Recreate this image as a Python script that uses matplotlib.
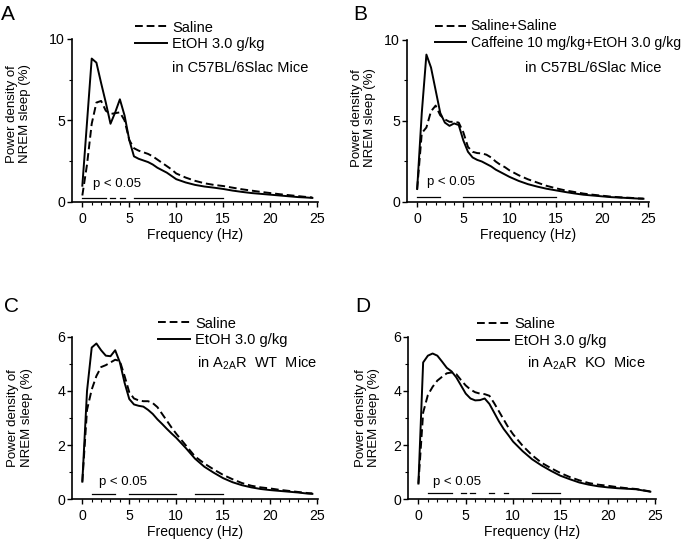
import numpy as np
import matplotlib
matplotlib.use('Agg')
import matplotlib.pyplot as plt
from matplotlib.ticker import FixedLocator

plt.rcParams['font.family'] = ['Liberation Sans', 'DejaVu Sans']
plt.rcParams['mathtext.fontset'] = 'custom'
plt.rcParams['mathtext.rm'] = 'Liberation Sans'

# frequency bins (Hz)
freq = [0, 0.5, 1, 1.5, 2, 2.5, 3, 3.5, 4, 4.5, 5, 5.5, 6, 6.5, 7, 7.5, 8, 8.5,
        9, 9.5, 10, 11, 12, 13, 14, 15, 16, 17, 18, 19, 20, 21, 22, 23, 24, 24.5]

# A: C57BL/6Slac, saline vs EtOH
a_saline = [0.4, 2.3, 4.8, 6.1, 6.2, 5.6, 5.4, 5.45, 5.5, 5.0, 3.8, 3.3, 3.15, 3.05,
            2.95, 2.8, 2.6, 2.4, 2.2, 2.0, 1.75, 1.5, 1.3, 1.15, 1.05, 0.98, 0.88,
            0.78, 0.7, 0.62, 0.55, 0.48, 0.42, 0.36, 0.3, 0.28]
a_etoh = [1.0, 4.9, 8.8, 8.55, 7.3, 6.1, 4.8, 5.5, 6.3, 5.3, 3.8, 2.8, 2.65, 2.55,
          2.45, 2.3, 2.1, 1.95, 1.8, 1.6, 1.4, 1.2, 1.05, 0.95, 0.88, 0.8, 0.7,
          0.62, 0.55, 0.5, 0.45, 0.4, 0.35, 0.3, 0.27, 0.25]

# B: saline+saline vs caffeine+EtOH
b_saline = [0.8, 4.25, 4.6, 5.6, 5.95, 5.35, 5.1, 4.95, 4.95, 4.9, 4.3, 3.4, 3.1,
            3.02, 3.0, 2.92, 2.75, 2.5, 2.3, 2.15, 1.95, 1.65, 1.4, 1.2, 1.0, 0.85,
            0.72, 0.62, 0.52, 0.45, 0.39, 0.33, 0.29, 0.26, 0.22, 0.21]
b_caff = [0.8, 5.5, 9.1, 8.3, 6.9, 5.5, 4.9, 4.7, 4.85, 4.75, 3.8, 3.1, 2.75, 2.6,
          2.5, 2.35, 2.2, 2.0, 1.85, 1.7, 1.55, 1.3, 1.1, 0.95, 0.82, 0.72, 0.62,
          0.53, 0.45, 0.4, 0.35, 0.3, 0.27, 0.24, 0.21, 0.2]

# C: A2AR WT
c_saline = [0.65, 3.3, 4.05, 4.55, 4.88, 4.95, 5.05, 5.15, 5.1, 4.55, 3.95, 3.72,
            3.65, 3.62, 3.62, 3.55, 3.4, 3.15, 2.9, 2.65, 2.42, 2.0, 1.58, 1.32,
            1.1, 0.9, 0.74, 0.6, 0.5, 0.44, 0.4, 0.35, 0.31, 0.27, 0.23, 0.22]
c_etoh = [0.65, 4.0, 5.6, 5.75, 5.5, 5.3, 5.28, 5.5, 5.05, 4.3, 3.7, 3.5, 3.45,
          3.42, 3.3, 3.15, 2.95, 2.78, 2.6, 2.43, 2.27, 1.9, 1.5, 1.2, 0.98, 0.78,
          0.63, 0.52, 0.44, 0.38, 0.34, 0.31, 0.28, 0.25, 0.21, 0.2]

# D: A2AR KO
d_saline = [0.58, 3.2, 3.85, 4.15, 4.38, 4.52, 4.65, 4.68, 4.62, 4.4, 4.2, 4.05,
            3.95, 3.9, 3.88, 3.82, 3.55, 3.25, 2.95, 2.65, 2.4, 1.98, 1.63, 1.35,
            1.15, 0.97, 0.82, 0.7, 0.6, 0.54, 0.5, 0.45, 0.41, 0.38, 0.32, 0.29]
d_etoh = [0.58, 5.05, 5.3, 5.38, 5.3, 5.08, 4.85, 4.72, 4.5, 4.2, 3.9, 3.72, 3.65,
          3.66, 3.72, 3.52, 3.2, 2.88, 2.6, 2.37, 2.13, 1.78, 1.48, 1.25, 1.05,
          0.87, 0.74, 0.62, 0.54, 0.48, 0.44, 0.41, 0.39, 0.37, 0.31, 0.28]

# p < 0.05 ranges (Hz)
a_sig = [(0, 2.5), (3, 3.5), (4, 4.5), (5.5, 15)]
b_sig = [(0, 2.5), (5, 15)]
c_sig = [(1, 3.5), (5, 10), (12, 15)]
d_sig = [(1, 3.5), (4.5, 5), (5.5, 6), (7.5, 8), (9, 9.5), (12, 15)]

W, H = 685, 540
fig = plt.figure(figsize=(W / 100, H / 100), dpi=100)


def px_axes(left, right, top, bottom):
    return fig.add_axes([left / W, 1 - bottom / H, (right - left) / W, (bottom - top) / H])


panels = [
    dict(letter='A', lpos=(1, 20), box=(72, 318, 39, 202), dash=a_saline, solid=a_etoh,
         labels=['Saline', 'EtOH 3.0 g/kg'], note='in C57BL/6Slac Mice', ymax=10,
         yt=[0, 5, 10], ym=[2.5, 7.5], sig=a_sig, sigy=0.25, ptxt=(1.1, 1.1),
         leg=(135, 20.5), legfs=10.5, npos=(172, 68), ylab=(-0.165, 0.54)),
    dict(letter='B', lpos=(353, 20), box=(407, 649, 40, 202), dash=b_saline, solid=b_caff,
         labels=['Saline+Saline', 'Caffeine 10 mg/kg+EtOH 3.0 g/kg'], note='in C57BL/6Slac Mice',
         ymax=10, yt=[0, 5, 10], ym=[2.5, 7.5], sig=b_sig, sigy=0.33, ptxt=(1.05, 1.25),
         leg=(435, 19.5), legfs=10.1, npos=(525, 68), ylab=(-0.128, 0.52)),
    dict(letter='C', lpos=(4, 312), box=(72, 318, 336.7, 499.3), dash=c_saline, solid=c_etoh,
         labels=['Saline', 'EtOH 3.0 g/kg'], note=r'in A$_{\mathregular{2A}}$R  WT  Mice',
         ymax=6, yt=[0, 2, 4, 6], ym=[1, 3, 5], sig=c_sig, sigy=0.2, ptxt=(1.8, 0.64),
         leg=(158, 316.5), legfs=10.5, npos=(197, 363), ylab=(-0.16, 0.5)),
    dict(letter='D', lpos=(355, 312), box=(408, 656, 336.7, 499.3), dash=d_saline, solid=d_etoh,
         labels=['Saline', 'EtOH 3.0 g/kg'], note=r'in A$_{\mathregular{2A}}$R  KO  Mice',
         ymax=6, yt=[0, 2, 4, 6], ym=[1, 3, 5], sig=d_sig, sigy=0.22, ptxt=(1.55, 0.64),
         leg=(477, 317.5), legfs=10.5, npos=(527, 363), ylab=(-0.113, 0.5)),
]

for p in panels:
    ax = px_axes(*p['box'])
    ax.plot(freq, p['dash'], color='black', lw=1.4, ls=(0, (4, 2)), label=p['labels'][0])
    ax.plot(freq, p['solid'], color='black', lw=1.4, label=p['labels'][1])
    for s0, s1 in p['sig']:
        ax.plot([s0, s1], [p['sigy'], p['sigy']], color='black', lw=0.9)
    ax.text(p['ptxt'][0], p['ptxt'][1], 'p < 0.05', fontsize=9.5, va='center', ha='left')

    ax.set_xlim(-1.1, 25.1)
    ax.set_ylim(0, p['ymax'])
    ax.spines['top'].set_visible(False)
    ax.spines['right'].set_visible(False)
    ax.spines['left'].set_linewidth(1.2)
    ax.spines['bottom'].set_linewidth(1.2)
    ax.spines['left'].set_bounds(0, p['ymax'])
    ax.xaxis.set_major_locator(FixedLocator([0, 5, 10, 15, 20, 25]))
    ax.xaxis.set_minor_locator(FixedLocator(list(range(26))))
    ax.yaxis.set_major_locator(FixedLocator(p['yt']))
    ax.yaxis.set_minor_locator(FixedLocator(p['ym']))
    ax.tick_params(which='major', length=3.5, width=1.0, labelsize=10.2, direction='out')
    ax.tick_params(which='minor', length=2.2, width=0.8, direction='out')
    ax.tick_params(axis='x', which='major', pad=3.5)
    ax.tick_params(axis='y', which='major', pad=1.5)
    ax.set_xlabel('Frequency (Hz)', fontsize=10, labelpad=1.5)
    ax.set_ylabel('Power density of\nNREM sleep (%)', fontsize=9.5, linespacing=1.15)
    ax.yaxis.set_label_coords(*p['ylab'])

    ax.legend(loc='upper left', bbox_to_anchor=(p['leg'][0] / W, 1 - p['leg'][1] / H),
              bbox_transform=fig.transFigure, frameon=False, fontsize=p['legfs'],
              handlelength=2.2, handletextpad=0.35, labelspacing=0.15,
              borderpad=0, borderaxespad=0)
    fig.text(p['npos'][0] / W, 1 - p['npos'][1] / H, p['note'], fontsize=10.5,
             ha='left', va='center')
    fig.text(p['lpos'][0] / W, 1 - p['lpos'][1] / H, p['letter'], fontsize=15,
             ha='left', va='baseline')

plt.savefig('out.png', dpi=100)
